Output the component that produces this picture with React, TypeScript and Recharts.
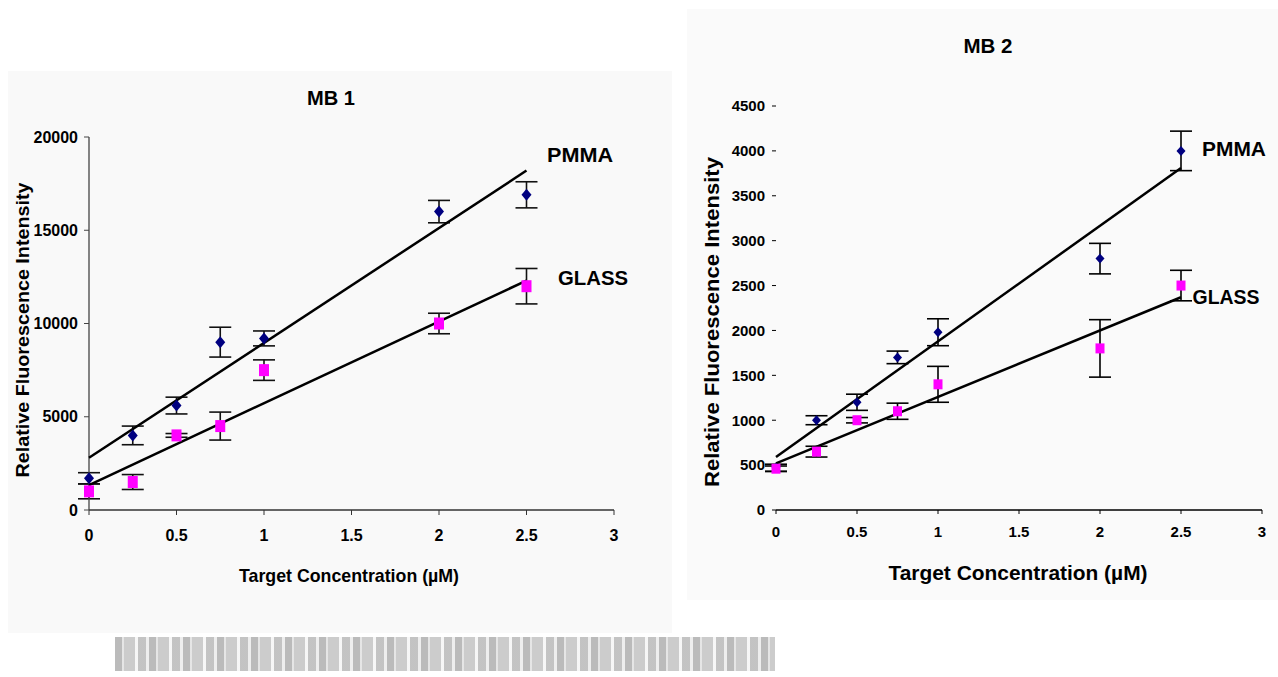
import { ScatterChart, Scatter, XAxis, YAxis, ErrorBar } from 'recharts';

// target concentrations (µM)
const conc = [0, 0.25, 0.5, 0.75, 1, 2, 2.5];
const xTicks = [0, 0.5, 1, 1.5, 2, 2.5, 3];

// MB 1
const mb1Pmma = [1700, 4000, 5600, 9000, 9200, 16000, 16900];
const mb1PmmaErr = [300, 500, 450, 800, 400, 600, 700];
const mb1Glass = [1000, 1500, 4000, 4500, 7500, 10000, 12000];
const mb1GlassErr = [400, 400, 100, 750, 550, 550, 950];
const mb1Ticks = [0, 5000, 10000, 15000, 20000];

// MB 2
const mb2Pmma = [470, 1000, 1200, 1700, 1980, 2800, 4000];
const mb2PmmaErr = [40, 50, 90, 70, 150, 170, 220];
const mb2Glass = [460, 650, 1000, 1100, 1400, 1800, 2500];
const mb2GlassErr = [30, 60, 30, 90, 200, 320, 170];
const mb2Ticks = [0, 500, 1000, 1500, 2000, 2500, 3000, 3500, 4000, 4500];

// trend line end points
const fitX = [0, 2.5];
const mb1PmmaFit = [2800, 18200];
const mb1GlassFit = [1340, 12300];
const mb2PmmaFit = [590, 3810];
const mb2GlassFit = [520, 2370];

const NAVY = '#000080';
const MAGENTA = '#ff00ff';
const FONT = '"Liberation Sans", Arial, sans-serif';

const pts = (ys: number[], errs: number[]) => conc.map((x, i) => ({ x, y: ys[i], err: errs[i] }));
const fit = (ys: number[]) => fitX.map((x, i) => ({ x, y: ys[i] }));

const diamond = (w: number, h: number) => (p: any) => (
  <polygon
    points={`${p.cx},${p.cy - h / 2} ${p.cx + w / 2},${p.cy} ${p.cx},${p.cy + h / 2} ${p.cx - w / 2},${p.cy}`}
    fill={NAVY}
  />
);
const square = (w: number, h: number) => (p: any) => (
  <rect x={p.cx - w / 2} y={p.cy - h / 2} width={w} height={h} fill={MAGENTA} />
);
const noDot = () => <g />;

const tickStyle = { fill: '#000', fontSize: 16, fontWeight: 700, fontFamily: FONT };

function Label({ x, y, w, size, text, rotate }: any) {
  return (
    <text
      x={x}
      y={y}
      textLength={w}
      lengthAdjust="spacingAndGlyphs"
      textAnchor="middle"
      dominantBaseline="central"
      fontSize={size}
      fontWeight={700}
      fontFamily={FONT}
      fill="#000"
      transform={rotate ? `rotate(-90 ${x} ${y})` : undefined}
    >
      {text}
    </text>
  );
}

export default function App() {
  return (
    <div style={{ position: 'absolute', left: 0, top: 0, width: 1278, height: 677, background: '#fff', overflow: 'hidden' }}>
      <div style={{ position: 'absolute', left: 8, top: 71, width: 664, height: 562, background: '#f9f9f9' }} />
      <div style={{ position: 'absolute', left: 687, top: 9, width: 591, height: 591, background: '#fafafa' }} />
      <div
        style={{
          position: 'absolute',
          left: 115,
          top: 637,
          width: 660,
          height: 34,
          opacity: 0.5,
          background:
            'repeating-linear-gradient(90deg, #777 0 7px, #ccc 7px 9px, #999 9px 20px, #eee 20px 23px, #888 23px 31px, #ddd 31px 34px)'
        }}
      />

      <div style={{ position: 'absolute', left: 0, top: 0 }}>
        <ScatterChart width={680} height={640} margin={{ top: 137, right: 66, bottom: 70, left: 0 }}>
          <XAxis
            type="number"
            dataKey="x"
            domain={[0, 3]}
            ticks={xTicks}
            height={60}
            tick={tickStyle}
            tickSize={5}
            tickMargin={15}
            axisLine={{ stroke: '#333', strokeWidth: 1.3 }}
            tickLine={{ stroke: '#333' }}
          />
          <YAxis
            type="number"
            dataKey="y"
            domain={[0, 20000]}
            ticks={mb1Ticks}
            width={89}
            tick={tickStyle}
            tickSize={5}
            tickMargin={6}
            axisLine={{ stroke: '#444', strokeWidth: 1.3 }}
            tickLine={{ stroke: '#444' }}
          />
          <Scatter data={fit(mb1PmmaFit)} line={{ stroke: '#000', strokeWidth: 2.5 }} shape={noDot} isAnimationActive={false} />
          <Scatter data={fit(mb1GlassFit)} line={{ stroke: '#000', strokeWidth: 2.5 }} shape={noDot} isAnimationActive={false} />
          <Scatter data={pts(mb1Pmma, mb1PmmaErr)} shape={diamond(10, 12)} isAnimationActive={false}>
            <ErrorBar dataKey="err" direction="y" width={11} stroke="#111" strokeWidth={1.6} isAnimationActive={false} />
          </Scatter>
          <Scatter data={pts(mb1Glass, mb1GlassErr)} shape={square(10, 12)} isAnimationActive={false}>
            <ErrorBar dataKey="err" direction="y" width={11} stroke="#111" strokeWidth={1.6} isAnimationActive={false} />
          </Scatter>
        </ScatterChart>
      </div>

      <div style={{ position: 'absolute', left: 690, top: 0 }}>
        <ScatterChart width={588} height={620} margin={{ top: 106, right: 16, bottom: 50, left: 0 }}>
          <XAxis
            type="number"
            dataKey="x"
            domain={[0, 3]}
            ticks={xTicks}
            height={60}
            tick={{ ...tickStyle, fontSize: 15 }}
            tickSize={4}
            tickMargin={12}
            axisLine={{ stroke: '#000', strokeWidth: 1.3 }}
            tickLine={{ stroke: '#000' }}
          />
          <YAxis
            type="number"
            dataKey="y"
            domain={[0, 4500]}
            ticks={mb2Ticks}
            width={86}
            tick={{ ...tickStyle, fontSize: 15 }}
            tickSize={4}
            tickMargin={7}
            axisLine={false}
            tickLine={{ stroke: '#000' }}
          />
          <Scatter data={fit(mb2PmmaFit)} line={{ stroke: '#000', strokeWidth: 2.5 }} shape={noDot} isAnimationActive={false} />
          <Scatter data={fit(mb2GlassFit)} line={{ stroke: '#000', strokeWidth: 2.5 }} shape={noDot} isAnimationActive={false} />
          <Scatter data={pts(mb2Pmma, mb2PmmaErr)} shape={diamond(9, 10)} isAnimationActive={false}>
            <ErrorBar dataKey="err" direction="y" width={11} stroke="#000" strokeWidth={1.6} isAnimationActive={false} />
          </Scatter>
          <Scatter data={pts(mb2Glass, mb2GlassErr)} shape={square(9, 10)} isAnimationActive={false}>
            <ErrorBar dataKey="err" direction="y" width={11} stroke="#000" strokeWidth={1.6} isAnimationActive={false} />
          </Scatter>
        </ScatterChart>
      </div>

      <svg width={1278} height={677} style={{ position: 'absolute', left: 0, top: 0, pointerEvents: 'none' }}>
        <Label x={331} y={98} w={48} size={20} text="MB 1" />
        <Label x={580} y={155} w={66} size={20} text="PMMA" />
        <Label x={593} y={278} w={70} size={20} text="GLASS" />
        <Label x={22} y={330} w={295} size={19} text="Relative Fluorescence Intensity" rotate />
        <Label x={349} y={575} w={220} size={19} text="Target Concentration (µM)" />

        <Label x={988} y={46} w={49} size={20} text="MB 2" />
        <Label x={1234} y={149} w={64} size={20} text="PMMA" />
        <Label x={1226} y={297} w={67} size={20} text="GLASS" />
        <Label x={712} y={322} w={330} size={20} text="Relative Fluorescence Intensity" rotate />
        <Label x={1018} y={573} w={259} size={20} text="Target Concentration (µM)" />
      </svg>
    </div>
  );
}
